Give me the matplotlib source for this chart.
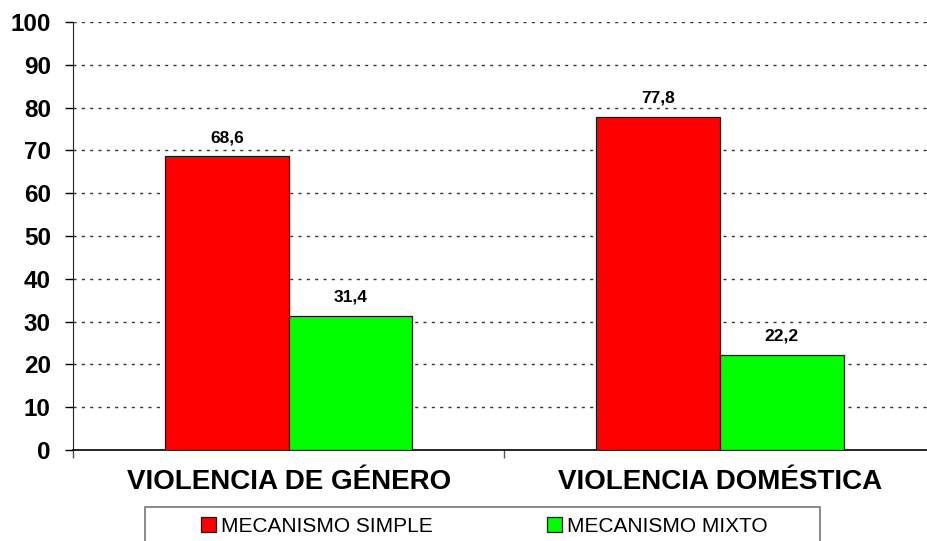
import matplotlib
matplotlib.use("Agg")
import matplotlib.pyplot as plt
from matplotlib.patches import Rectangle
import numpy as np

categories = ["VIOLENCIA DE GÉNERO", "VIOLENCIA DOMÉSTICA"]
series_names = ["MECANISMO SIMPLE", "MECANISMO MIXTO"]
simple_vals = [68.6, 77.8]
mixto_vals = [31.4, 22.2]
y_ticks = [0, 10, 20, 30, 40, 50, 60, 70, 80, 90, 100]

colors = ["#ff0000", "#00ff00"]

plt.rcParams["font.family"] = ["Liberation Sans", "DejaVu Sans"]

W, H = 927, 541
fig = plt.figure(figsize=(W / 100, H / 100), dpi=100)
ax = fig.add_axes([73 / W, (H - 450) / H, (W - 73) / W, 428 / H])

x = np.arange(len(categories))
bw = 0.287
for vals, off, col, name in [(simple_vals, -bw / 2, colors[0], series_names[0]),
                             (mixto_vals, bw / 2, colors[1], series_names[1])]:
    bars = ax.bar(x + off, vals, width=bw, color=col, edgecolor="#1a1a1a",
                  linewidth=0.9, zorder=3, label=name)
    for b, v in zip(bars, vals):
        ax.annotate(f"{v:.1f}".replace(".", ","),
                    (b.get_x() + b.get_width() / 2, v),
                    xytext=(0, 8), textcoords="offset points",
                    ha="center", va="bottom", fontsize=12.5, fontweight="bold")

ax.set_yticks(y_ticks)
ax.set_yticklabels([str(t) for t in y_ticks], fontsize=17.5, fontweight="bold")
ax.tick_params(axis="y", direction="out", length=6, width=1, pad=10)

ax.set_xticks(x)
ax.set_xticklabels(categories, fontsize=20, fontweight="bold")
ax.tick_params(axis="x", which="major", length=0, pad=14)
ax.set_xticks([-0.5, 0.5, 1.5], minor=True)
ax.tick_params(axis="x", which="minor", direction="out", length=6, width=1, color="#555555")

ax.set_ylim(0, 100)
ax.set_xlim(-0.5, 1.48)

for yv in y_ticks[1:]:
    ax.axhline(yv, color="#333333", linewidth=1.0, linestyle=(0, (2.2, 3.8)), zorder=1)

for s in ["top", "right"]:
    ax.spines[s].set_visible(False)
ax.spines["left"].set_color("#222222")
ax.spines["bottom"].set_color("#000000")
ax.spines["bottom"].set_linewidth(1.2)

# legend frame running off the bottom edge
fig.patches.append(Rectangle((145 / W, -0.1), (820 - 145) / W, (H - 507) / H + 0.1,
                             transform=fig.transFigure, fill=False,
                             edgecolor="#777777", linewidth=1.2))
leg = fig.legend(loc="center", bbox_to_anchor=(484 / W, (H - 526) / H),
                 ncol=2, frameon=False, fontsize=15, handlelength=0.75,
                 handleheight=0.75, handletextpad=0.2, columnspacing=5.5)

fig.savefig("out.png", dpi=100)
